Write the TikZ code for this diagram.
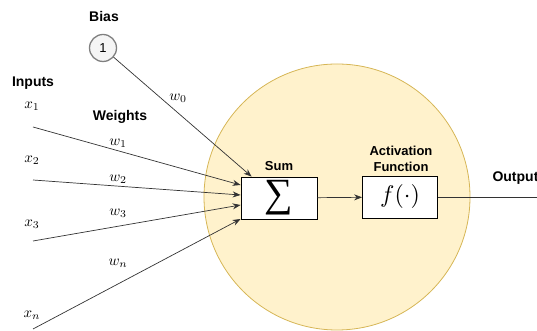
\documentclass[tikz,border=0pt]{standalone}
\usepackage{fontspec}
\setsansfont{Liberation Sans}
\newfontfamily\sigmafont{Liberation Serif}
\usetikzlibrary{arrows.meta}
\definecolor{cellfill}{HTML}{FFF2CC}
\definecolor{celledge}{HTML}{D6B656}
\definecolor{wire}{HTML}{333333}
\newcommand{\mlab}[1]{\scalebox{1.5}{$#1$}}
\begin{document}
\begin{tikzpicture}[x=1pt, y=1pt,
    lbl/.style={font=\sffamily\bfseries\fontsize{14}{16}\selectfont},
    inlbl/.style={font=\sffamily\bfseries\fontsize{13}{16}\selectfont, align=center},
    opbox/.style={draw=black, fill=white, line width=0.8pt, minimum width=76pt, minimum height=42pt, inner sep=0pt},
    conn/.style={draw=wire, line width=0.7pt, -{Stealth[length=8pt,width=6pt]}}]
  \useasboundingbox (0,0) rectangle (537,331);
  % Neuron body
  \node[circle, fill=cellfill, draw=celledge, line width=0.8pt, minimum size=266pt, inner sep=0pt] (neuron) at (337,134) {};
  % Sum and activation
  \node[opbox, font=\sigmafont\fontsize{40}{40}\selectfont] (sum) at (279,133) {∑};
  \node[opbox, minimum width=75pt] (act) at (400,134) {\scalebox{2.4}{$f(\cdot)$}};
  \node[inlbl, inner sep=1pt] (sumlbl) at (279,165) {Sum};
  \node[inlbl] (actlbl) at (401,172) {Activation\\Function};
  \draw[conn] (sum) -- (act);
  % Output
  \coordinate (outend) at (537,134);
  \draw[draw=wire, line width=0.7pt] (act) -- (outend);
  \node[lbl, anchor=west] (outlbl) at (489,153) {Output};
  % Bias
  \node[circle, draw=gray, fill=gray!8, line width=1.3pt, minimum size=27pt, inner sep=0pt, font=\sffamily\fontsize{13}{15}\selectfont] (bias) at (103,283) {1};
  \node[lbl] (biaslbl) at (104,314) {Bias};
  \draw[conn] (bias) -- ([xshift=11pt]sum.north west);
  \node (w0) at (178,233) {\mlab{w_0}};
  % Inputs and weights
  \node[lbl] (inlbl) at (33,248) {Inputs};
  \node[lbl] (wlbl) at (120,214) {Weights};
  \foreach \i/\ys/\yl/\ye/\wy in {1/204/225/13/188, 2/151/171/3/152, 3/90/107/-7/118, n/2/16/-21/68} {
    \coordinate (in\i) at (33,\ys);
    \node (x\i) at (32,\yl) {\mlab{x_{\i}}};
    \draw[conn] (in\i) -- ([yshift=\ye pt]sum.west);
    \node (w\i) at (118,\wy) {\mlab{w_{\i}}};
  }
\end{tikzpicture}
\end{document}
